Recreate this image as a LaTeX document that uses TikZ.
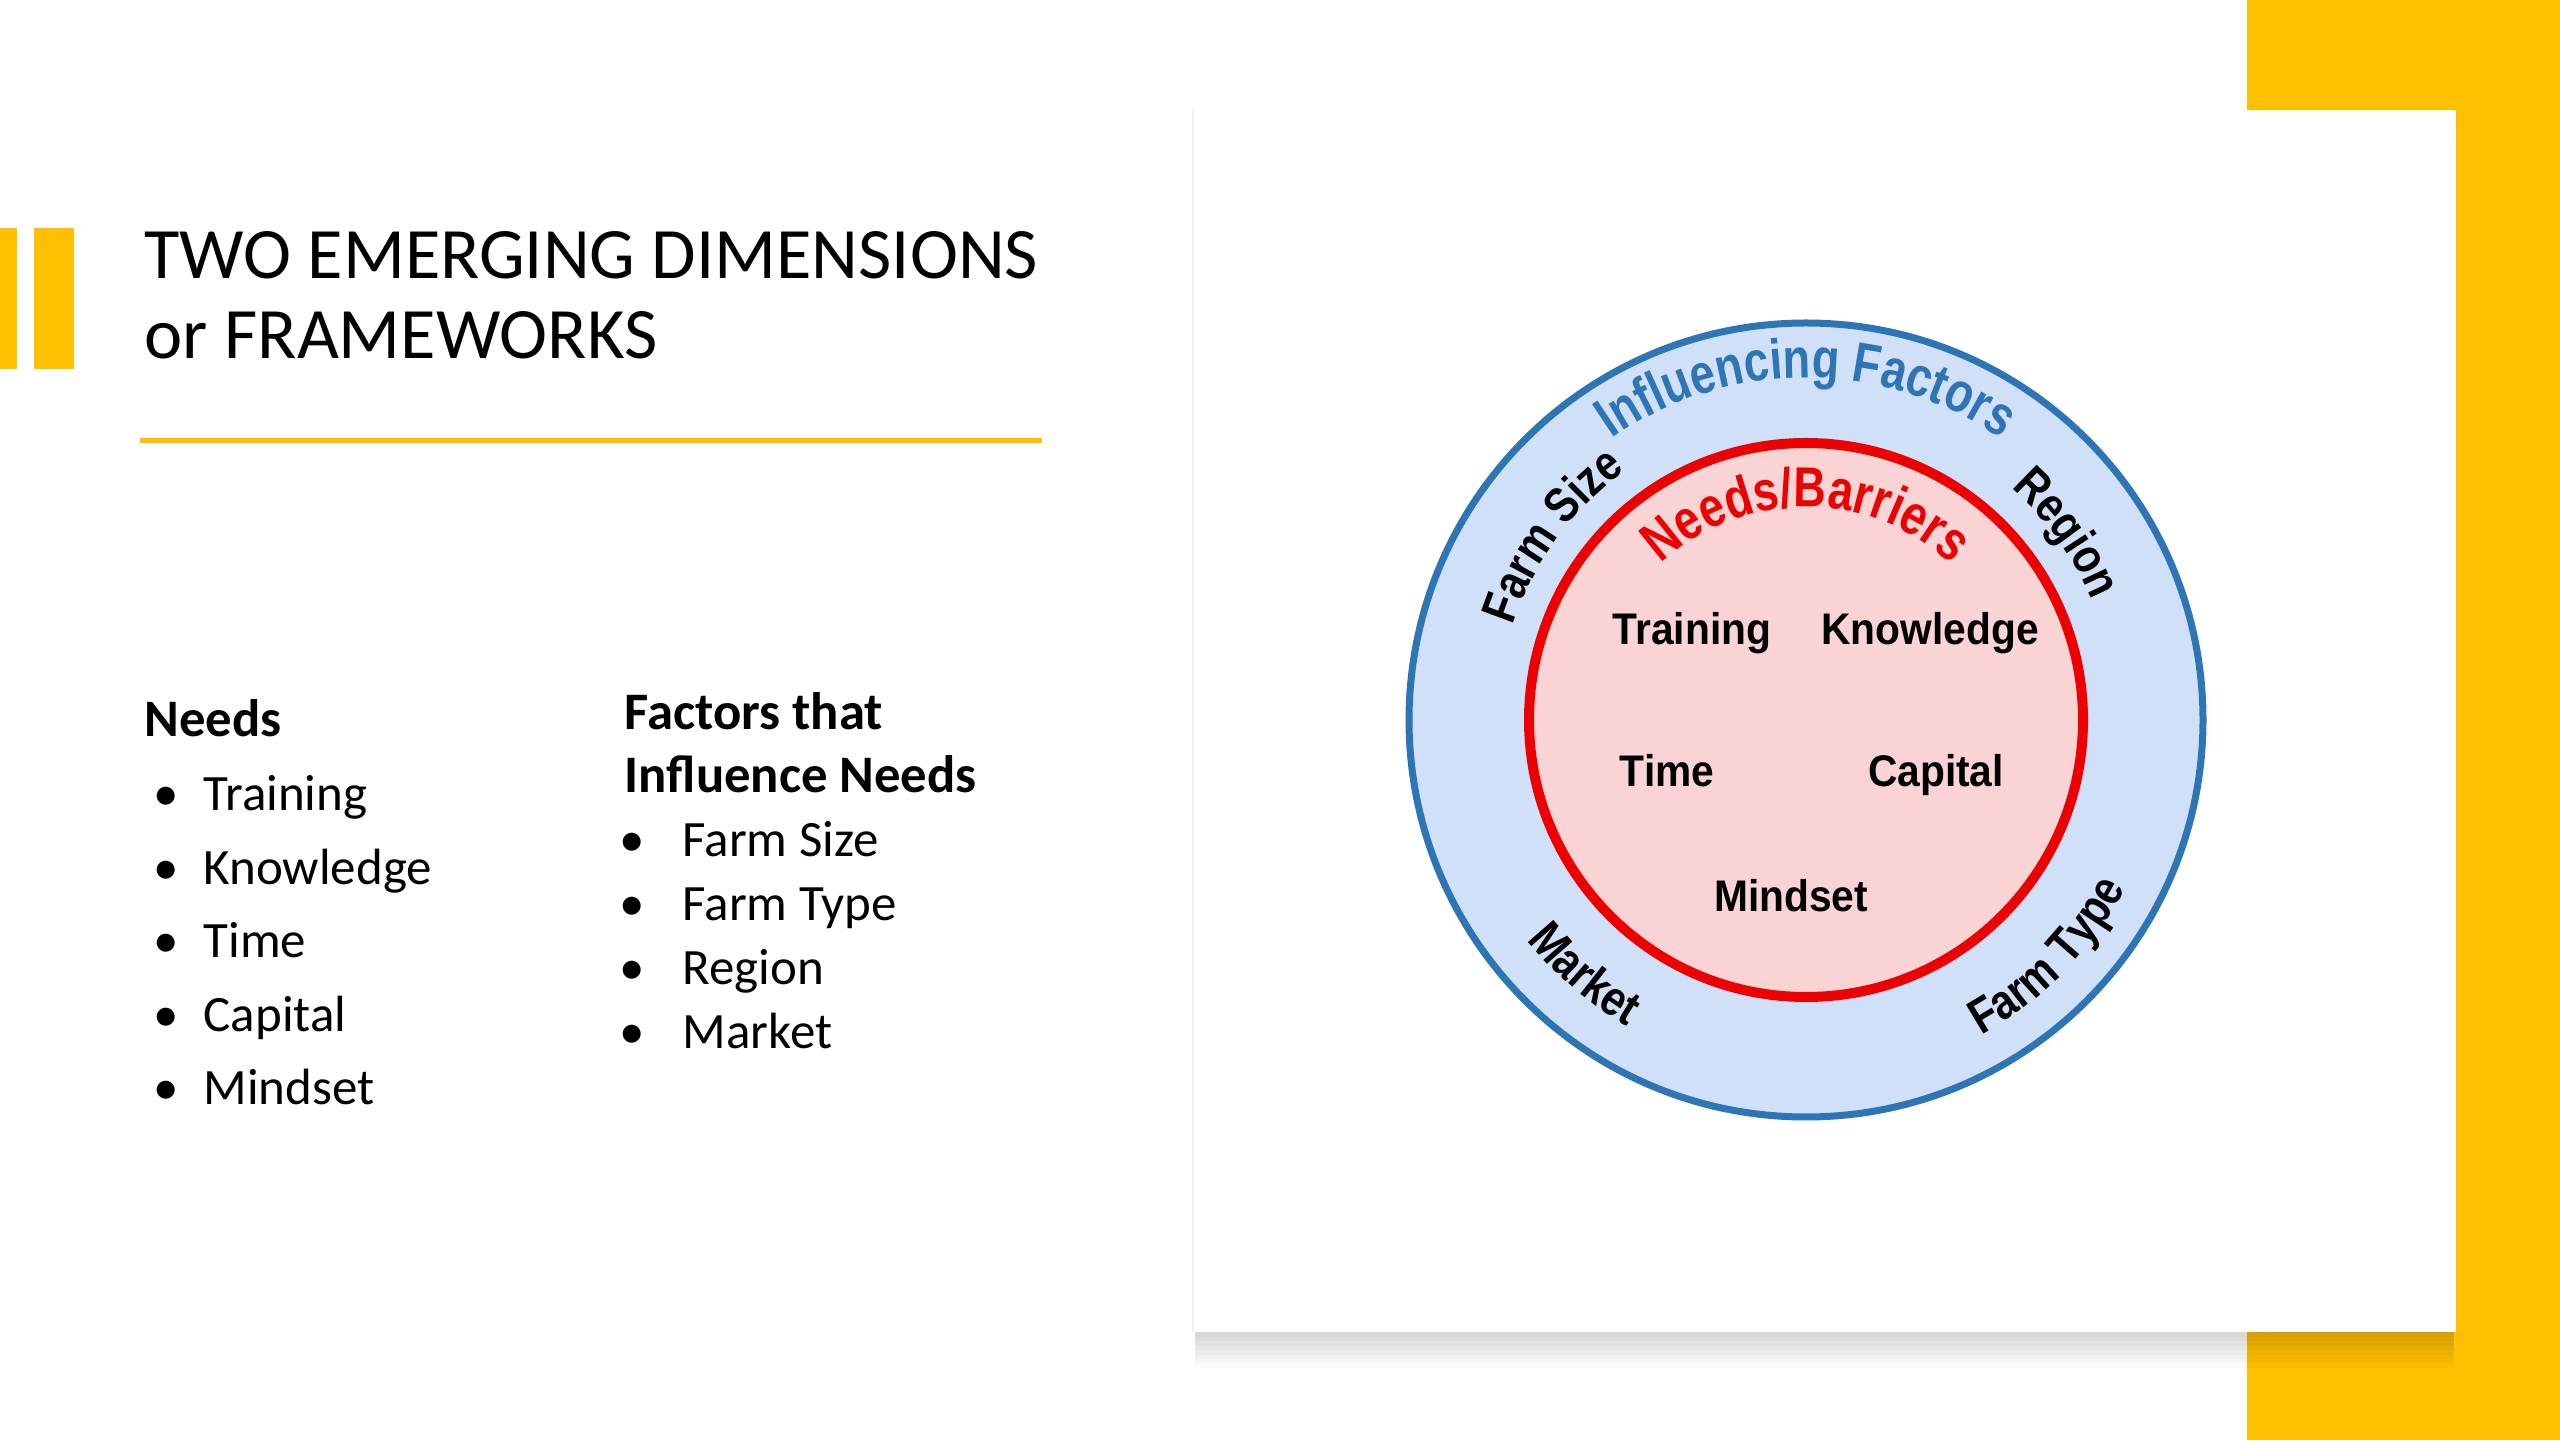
\documentclass[tikz,border=0pt]{standalone}
\usepackage{fontspec}
\setmainfont{Carlito}
\newfontfamily\archfont[FakeStretch=0.80]{Liberation Sans Bold}
\newfontfamily\ringfont[FakeStretch=0.84]{Liberation Sans Bold}
\newfontfamily\corefont[FakeStretch=0.92]{Liberation Sans Bold}
\usetikzlibrary{positioning,calc,decorations.text}
\definecolor{slideyellow}{RGB}{255,192,0}
\definecolor{ringblue}{RGB}{46,117,182}
\definecolor{ringfill}{RGB}{208,224,248}
\definecolor{corered}{RGB}{236,0,0}
\definecolor{corefill}{RGB}{250,212,212}
\newcommand{\bigarc}{\fontsize{16pt}{18pt}\selectfont\archfont}
\newcommand{\smallarc}{\fontsize{14pt}{16pt}\selectfont\ringfont}

\begin{document}
\begin{tikzpicture}[
  titletext/.style={anchor=base west, inner sep=0pt, font=\fontsize{20.6pt}{22.8pt}\selectfont},
  head/.style={anchor=base west, inner sep=0pt, font=\fontsize{15pt}{18pt}\selectfont\bfseries},
  item/.style={anchor=base west, inner sep=0pt, font=\fontsize{14.5pt}{17pt}\selectfont},
  core/.style={anchor=base, inner sep=0pt, font=\fontsize{12.6pt}{14pt}\selectfont\corefont},
  arctext/.style={decorate, decoration={text along path, text align=center, text={#1}}}
]
\useasboundingbox (0,0) rectangle (25.6,14.4);
\fill[white] (0,0) rectangle (25.6,14.4);

% Yellow accents
\fill[slideyellow] (22.47,0) rectangle (25.6,14.4);
\fill[slideyellow] (0,10.71) rectangle (0.17,12.12);
\fill[slideyellow] (0.34,10.71) rectangle (0.74,12.12);

% Title and rule
\node[titletext] (t1) at (1.44,11.61) {TWO EMERGING DIMENSIONS};
\node[titletext, below=0.80cm of t1.base west, anchor=base west] (t2) {or FRAMEWORKS};
\draw[slideyellow, line width=0.05cm] (1.40,9.99) -- (10.42,9.99);

% Needs list
\node[head] (needs) at (1.44,7.03) {Needs};
\node[item] (nd1) at (1.53,6.29) {\makebox[0.50cm][l]{\textbullet}Training};
\node[item, below=0.735cm of nd1.base west, anchor=base west] (nd2) {\makebox[0.50cm][l]{\textbullet}Knowledge};
\node[item, below=0.735cm of nd2.base west, anchor=base west] (nd3) {\makebox[0.50cm][l]{\textbullet}Time};
\node[item, below=0.735cm of nd3.base west, anchor=base west] (nd4) {\makebox[0.50cm][l]{\textbullet}Capital};
\node[item, below=0.735cm of nd4.base west, anchor=base west] (nd5) {\makebox[0.50cm][l]{\textbullet}Mindset};

% Factors list
\node[head] (fac1) at (6.24,7.10) {Factors that};
\node[head, below=0.63cm of fac1.base west, anchor=base west] (fac2) {Influence Needs};
\node[item] (fc1) at (6.19,5.83) {\makebox[0.63cm][l]{\textbullet}Farm Size};
\node[item, below=0.637cm of fc1.base west, anchor=base west] (fc2) {\makebox[0.63cm][l]{\textbullet}Farm Type};
\node[item, below=0.637cm of fc2.base west, anchor=base west] (fc3) {\makebox[0.63cm][l]{\textbullet}Region};
\node[item, below=0.637cm of fc3.base west, anchor=base west] (fc4) {\makebox[0.63cm][l]{\textbullet}Market};

% Panel with soft shadow under it
\foreach \s in {1,...,8}
  \fill[black, opacity=0.02] (11.95,1.08) rectangle (24.54,{1.08-0.045*\s});
\fill[white] (11.93,1.08) rectangle (24.56,13.30);
\draw[black!6, line width=0.02cm] (11.93,1.08) -- (11.93,13.30);

% Rings
\coordinate (ctr) at (18.06,7.20);
\filldraw[draw=ringblue, fill=ringfill, line width=0.07cm] (ctr) circle[radius=3.97];
\filldraw[draw=corered, fill=corefill, line width=0.10cm] (ctr) circle[radius=2.77];

% Curved labels
\path[arctext={|\color{ringblue}\bigarc|Influencing Factors}]
  ($(ctr)+(180:3.42)$) arc[start angle=180, end angle=0, radius=3.42];
\path[arctext={|\color{corered}\bigarc|Needs/Barriers}]
  ($(ctr)+(180:2.13)$) arc[start angle=180, end angle=0, radius=2.13];
\path[arctext={|\smallarc|Farm Size}]
  ($(ctr)+(174:3.08)$) arc[start angle=174, end angle=114, radius=3.08];
\path[arctext={|\smallarc|Region}]
  ($(ctr)+(65.6:3.10)$) arc[start angle=65.6, end angle=5.6, radius=3.10];
\path[arctext={|\smallarc|Market}]
  ($(ctr)+(199:3.55)$) arc[start angle=199, end angle=259, radius=3.55];
\path[arctext={|\smallarc|Farm Type}]
  ($(ctr)+(285.6:3.61)$) arc[start angle=285.6, end angle=345.6, radius=3.61];

% Needs inside the core
\node[core] (train) at (16.92,7.95) {Training};
\node[core] (know)  at (19.30,7.95) {Knowledge};
\node[core] (time)  at (16.67,6.53) {Time};
\node[core] (cap)   at (19.36,6.53) {Capital};
\node[core] (mind)  at (17.91,5.28) {Mindset};
\end{tikzpicture}
\end{document}
